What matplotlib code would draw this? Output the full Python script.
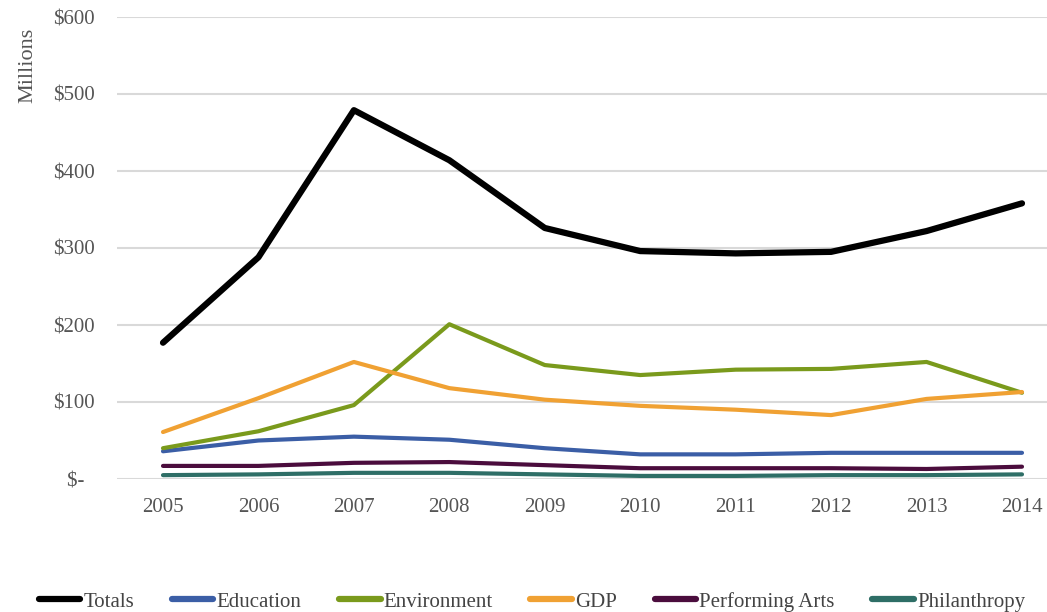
import matplotlib.pyplot as plt
from matplotlib.ticker import FuncFormatter

# values in millions of dollars
years = [2005, 2006, 2007, 2008, 2009, 2010, 2011, 2012, 2013, 2014]
totals = [177, 288, 479, 414, 326, 296, 293, 295, 322, 358]
education = [36, 50, 55, 51, 40, 32, 32, 34, 34, 34]
environment = [40, 62, 96, 201, 148, 135, 142, 143, 152, 112]
gdp = [61, 105, 152, 118, 103, 95, 90, 83, 104, 113]
performing_arts = [17, 17, 21, 22, 18, 14, 14, 14, 13, 16]
philanthropy = [5, 6, 8, 8, 6, 4, 4, 5, 5, 6]

series = [
    ("Totals", totals, "#000000", 4.5),
    ("Education", education, "#3b5ea6", 3.0),
    ("Environment", environment, "#7a9a1c", 3.0),
    ("GDP", gdp, "#f0a133", 3.0),
    ("Performing Arts", performing_arts, "#4b0d3d", 3.0),
    ("Philanthropy", philanthropy, "#2e6e66", 3.0),
]

plt.rcParams['font.family'] = ['Liberation Serif', 'DejaVu Serif']

fig = plt.figure(figsize=(10.47, 6.12), dpi=100)
ax = fig.add_axes([117 / 1047, 1 - 479 / 612, 1 - 117 / 1047, (479 - 17) / 612])

for name, vals, col, lw in series:
    ax.plot(years, vals, color=col, lw=lw, label=name, solid_capstyle='round',
            solid_joinstyle='round')

ax.set_ylim(0, 600)
ax.set_xlim(2004.518, 2014.262)
ax.set_yticks(range(0, 601, 100))
ax.yaxis.set_major_formatter(FuncFormatter(lambda v, p: "$-  " if v == 0 else "$%d" % v))
ax.set_xticks(years)
ax.grid(axis='y', color='#d9d9d9', lw=1.5)
ax.set_axisbelow(True)
for s in ax.spines.values():
    s.set_visible(False)
ax.tick_params(length=0, labelsize=15, colors='#555555')
ax.tick_params(axis='y', pad=16)
ax.tick_params(axis='x', pad=14)

fig.text(0.027, 0.893, "Millions", rotation=90, ha='center', va='center',
         fontsize=16, color='#555555')

leg = fig.legend(loc='lower center', bbox_to_anchor=(0.508, -0.03), ncol=6, frameon=False,
                 fontsize=15, handlelength=2.0, handletextpad=0.15, columnspacing=1.8,
                 labelcolor='#444444')
for h in leg.get_lines():
    h.set_linewidth(4.5)

fig.savefig("out.png", dpi=100)
